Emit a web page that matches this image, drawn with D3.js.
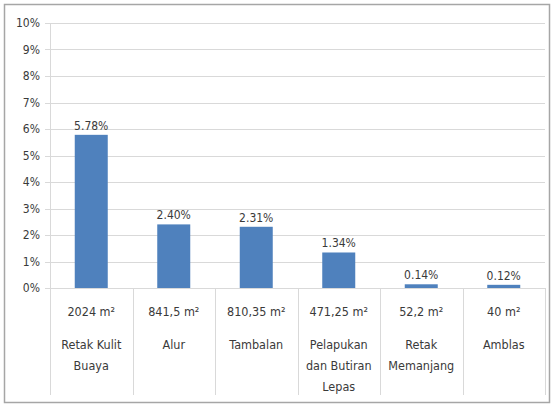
<!DOCTYPE html>
<html>
<head>
<meta charset="utf-8">
<script src="https://cdn.jsdelivr.net/npm/d3@7"></script>
<style>
  body { margin: 0; background: #fff; }
  text { font-family: "DejaVu Sans Condensed", "Liberation Sans Narrow", Arial, sans-serif; fill: #3a3a3a; }
</style>
</head>
<body>
<div id="chart"></div>
<script>
// data
const categories = [
  ['Retak Kulit', 'Buaya'],
  ['Alur'],
  ['Tambalan'],
  ['Pelapukan', 'dan Butiran', 'Lepas'],
  ['Retak', 'Memanjang'],
  ['Amblas']
];
const areas = ['2024 m²', '841,5 m²', '810,35 m²', '471,25 m²', '52,2 m²', '40 m²'];
const percents = [5.78, 2.40, 2.31, 1.34, 0.14, 0.12];
const yTicks = [0, 1, 2, 3, 4, 5, 6, 7, 8, 9, 10];

const width = 555, height = 406;
const margin = { left: 50, right: 10, top: 23, bottom: 118 };
const plotRight = 545;

const svg = d3.select('#chart')
  .append('svg')
  .attr('width', width)
  .attr('height', height);

// outer frame
svg.append('rect')
  .attr('x', 4.5).attr('y', 4.5)
  .attr('width', 545).attr('height', 398)
  .attr('fill', '#fff')
  .attr('stroke', '#a6a6a6')
  .attr('stroke-width', 1.5);

const x = d3.scaleBand()
  .domain(d3.range(categories.length))
  .range([margin.left, plotRight])
  .paddingInner(0.6)
  .paddingOuter(0.3);

const y = d3.scaleLinear()
  .domain([0, 10])
  .range([288, margin.top]);

// gridlines
svg.append('g')
  .selectAll('line')
  .data(yTicks)
  .enter()
  .append('line')
  .attr('x1', margin.left - 5)
  .attr('x2', plotRight)
  .attr('y1', d => Math.round(y(d)) + 0.5)
  .attr('y2', d => Math.round(y(d)) + 0.5)
  .attr('stroke', '#d9d9d9')
  .attr('stroke-width', 1.2);

// y labels
svg.append('g')
  .selectAll('text')
  .data(yTicks)
  .enter()
  .append('text')
  .attr('x', 40)
  .attr('y', d => y(d))
  .attr('dy', '0.35em')
  .attr('text-anchor', 'end')
  .style('font-size', '12px')
  .text(d => d + '%');

// y axis line
svg.append('line')
  .attr('x1', margin.left + 0.5).attr('x2', margin.left + 0.5)
  .attr('y1', y(10)).attr('y2', 395)
  .attr('stroke', '#d9d9d9');

// category dividers
svg.append('g')
  .selectAll('line')
  .data(d3.range(1, categories.length + 1))
  .enter()
  .append('line')
  .attr('x1', i => Math.round(margin.left + i * (plotRight - margin.left) / categories.length) + 0.5)
  .attr('x2', i => Math.round(margin.left + i * (plotRight - margin.left) / categories.length) + 0.5)
  .attr('y1', 288)
  .attr('y2', 395)
  .attr('stroke', '#d9d9d9');

// bars
svg.append('g')
  .selectAll('rect')
  .data(percents)
  .enter()
  .append('rect')
  .attr('x', (d, i) => x(i))
  .attr('y', d => y(d))
  .attr('width', x.bandwidth())
  .attr('height', d => Math.max(y(0) - y(d), 2))
  .attr('fill', '#4f81bd');

// value labels
svg.append('g')
  .selectAll('text')
  .data(percents)
  .enter()
  .append('text')
  .attr('x', (d, i) => x(i) + x.bandwidth() / 2)
  .attr('y', d => y(d) - 5)
  .attr('text-anchor', 'middle')
  .style('font-size', '12px')
  .text(d => d.toFixed(2) + '%');

// area labels
svg.append('g')
  .selectAll('text')
  .data(areas)
  .enter()
  .append('text')
  .attr('x', (d, i) => x(i) + x.bandwidth() / 2)
  .attr('y', 316)
  .attr('text-anchor', 'middle')
  .style('font-size', '12.5px')
  .text(d => d);

// category names
const cat = svg.append('g')
  .selectAll('text')
  .data(categories)
  .enter()
  .append('text')
  .attr('x', (d, i) => x(i) + x.bandwidth() / 2)
  .attr('y', 349)
  .attr('text-anchor', 'middle')
  .style('font-size', '12.5px');

cat.selectAll('tspan')
  .data((d, i) => d.map(t => ({ t, i })))
  .enter()
  .append('tspan')
  .attr('x', d => x(d.i) + x.bandwidth() / 2)
  .attr('dy', (d, j) => j === 0 ? 0 : 21)
  .text(d => d.t);
</script>
</body>
</html>
